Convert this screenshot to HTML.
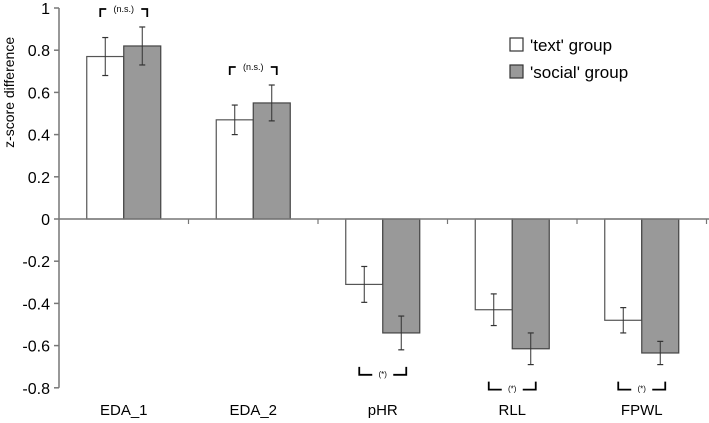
<!DOCTYPE html>
<html><head><meta charset="utf-8"><style>
body{margin:0;background:#fff;}
svg{display:block;font-family:"Liberation Sans",Arial,sans-serif;}
</style></head><body>
<svg id="chart" width="709" height="423" viewBox="0 0 709 423" xmlns="http://www.w3.org/2000/svg"></svg>
<script>
const categories=["EDA_1","EDA_2","pHR","RLL","FPWL"];
const textValues=[0.77,0.47,-0.31,-0.43,-0.48];
const socialValues=[0.82,0.55,-0.54,-0.615,-0.635];
const textErrors=[0.09,0.07,0.085,0.075,0.06];
const socialErrors=[0.09,0.085,0.08,0.075,0.055];
const yTicks=[1,0.8,0.6,0.4,0.2,0,-0.2,-0.4,-0.6,-0.8];
const yTickLabels=["1","0.8","0.6","0.4","0.2","0","-0.2","-0.4","-0.6","-0.8"];
const sigLabels=["(n.s.)","(n.s.)","(*)","(*)","(*)"];

const svg=document.getElementById('chart');
const NS="http://www.w3.org/2000/svg";
const x0=59,step=129.5,bw=37;
const y=v=>219-v*211;
const xc=i=>x0+step*(i+0.5);
function mk(tag,attrs,parent){const e=document.createElementNS(NS,tag);for(const k in attrs)e.setAttribute(k,attrs[k]);(parent||svg).appendChild(e);return e;}

// y axis
let ax=mk('line',{x1:x0,y1:y(1),x2:x0,y2:y(-0.8),stroke:'#777','stroke-width':1.5});


yTicks.forEach((t,i)=>{
  let tk=mk('line',{x1:x0-5,y1:y(t),x2:x0,y2:y(t),stroke:'#777','stroke-width':1.5});
  
  
  let tl=mk('text',{x:x0-9,y:y(t)+6,'text-anchor':'end','font-size':16,fill:'#000'});
  tl.textContent=yTickLabels[i];
  
  
});
let yt=mk('text',{x:14,y:y(0.6),'text-anchor':'middle','font-size':14,transform:`rotate(-90 14 ${y(0.6)})`});
yt.textContent='z-score difference';



function errBar(cx,v,e){
  mk('line',{x1:cx,y1:y(v+e),x2:cx,y2:y(v-e),stroke:'#333','stroke-width':1});
  mk('line',{x1:cx-3,y1:y(v+e),x2:cx+3,y2:y(v+e),stroke:'#333','stroke-width':1.2});
  mk('line',{x1:cx-3,y1:y(v-e),x2:cx+3,y2:y(v-e),stroke:'#333','stroke-width':1.2});
}
categories.forEach((c,i)=>{
  const cx=xc(i);
  const tv=textValues[i],sv=socialValues[i];
  let b1=mk('rect',{x:cx-bw,y:Math.min(y(tv),y(0)),width:bw,height:Math.abs(y(tv)-y(0)),fill:'#fff',stroke:'#555','stroke-width':1.2});
  
  
  let b2=mk('rect',{x:cx,y:Math.min(y(sv),y(0)),width:bw,height:Math.abs(y(sv)-y(0)),fill:'#999',stroke:'#444','stroke-width':1.2});
  
  
  errBar(cx-bw/2,tv,textErrors[i]);
  errBar(cx+bw/2,sv,socialErrors[i]);
  let lb=mk('text',{x:cx,y:415,'text-anchor':'middle','font-size':15});
  lb.textContent=c;
  
  
  // significance bracket
  const g=mk('g',{});
  
  
  const l=cx-bw/2,r=cx+bw/2;
  if(tv>0){
    const top=Math.max(tv+textErrors[i],sv+socialErrors[i]);
    const by=y(top)-18;
    mk('path',{d:`M${l-5} ${by+8} V${by} H${l+1} M${r-1} ${by} H${r+5} V${by+8}`,fill:'none',stroke:'#000','stroke-width':1.8},g);
    const t=mk('text',{x:cx,y:by+3,'text-anchor':'middle','font-size':9},g);t.textContent=sigLabels[i];
  } else {
    const bot=Math.min(tv-textErrors[i],sv-socialErrors[i]);
    const by=y(bot)+25;
    mk('path',{d:`M${l-5} ${by-8} V${by} H${l+8} M${r-8} ${by} H${r+5} V${by-8}`,fill:'none',stroke:'#000','stroke-width':1.8},g);
    const t=mk('text',{x:cx,y:by+2,'text-anchor':'middle','font-size':8},g);t.textContent=sigLabels[i];
  }
});
// x axis at zero
let xa=mk('line',{x1:x0,y1:y(0),x2:709,y2:y(0),stroke:'#777','stroke-width':1.5});


for(let i=1;i<=5;i++){
  let t=mk('line',{x1:x0+step*i,y1:y(0),x2:x0+step*i,y2:y(0)+5,stroke:'#777','stroke-width':1.2});
  
  
}
// legend
const lg=mk('g',{});


const e1=mk('g',{},lg);


mk('rect',{x:510,y:38,width:13,height:13,fill:'#fff',stroke:'#333','stroke-width':1.2},e1);
let t1=mk('text',{x:530,y:51,'font-size':17},e1);t1.textContent="'text' group";
const e2=mk('g',{},lg);


mk('rect',{x:510,y:65,width:13,height:13,fill:'#999',stroke:'#333','stroke-width':1.2},e2);
let t2=mk('text',{x:530,y:78,'font-size':17},e2);t2.textContent="'social' group";
</script>
</body></html>
